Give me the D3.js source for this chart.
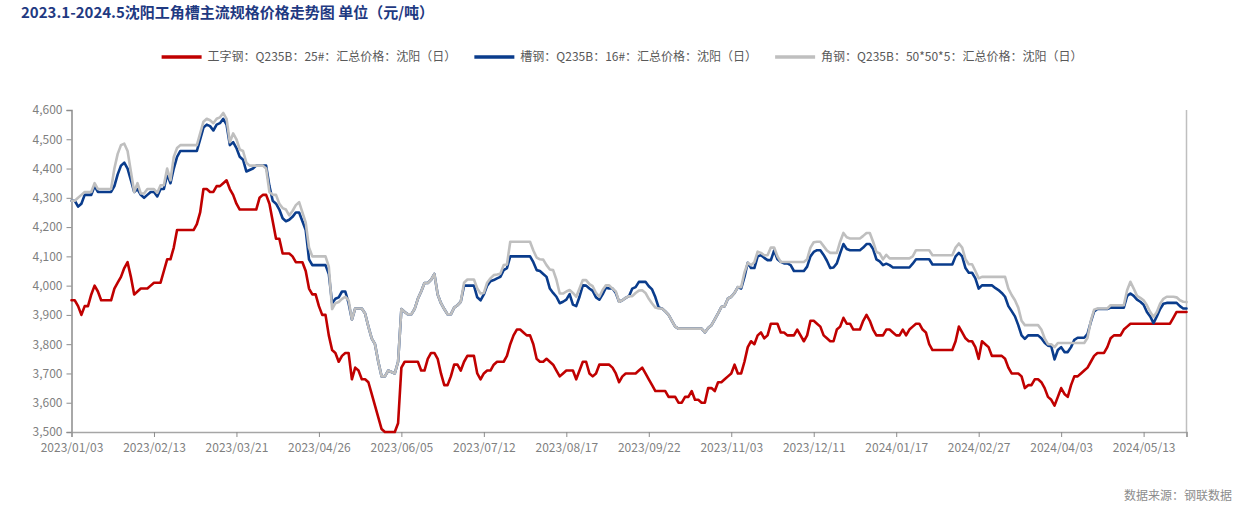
<!DOCTYPE html>
<html><head><meta charset="utf-8">
<script src="https://cdn.jsdelivr.net/npm/d3@7/dist/d3.min.js"></script>
<style>
html,body{margin:0;padding:0;background:#fff;}
svg text{font-family:"Noto Sans CJK SC","Noto Sans",sans-serif;}
</style></head>
<body><svg id="c" width="1249" height="515"></svg>
<script>
const title = "2023.1-2024.5沈阳工角槽主流规格价格走势图 单位（元/吨）";
const source = "数据来源：钢联数据";
const seriesNames = ["工字钢：Q235B：25#：汇总价格：沈阳（日）","槽钢：Q235B：16#：汇总价格：沈阳（日）","角钢：Q235B：50*50*5：汇总价格：沈阳（日）"];
const seriesColors = ["#C00000","#0A3C8C","#BFBFBF"];
const tickLabels = ["2023/01/03","2023/02/13","2023/03/21","2023/04/26","2023/06/05","2023/07/12","2023/08/17","2023/09/22","2023/11/03","2023/12/11","2024/01/17","2024/02/27","2024/04/03","2024/05/13"];
const tickStep = 25;
const yTicks = [3500,3600,3700,3800,3900,4000,4100,4200,4300,4400,4500,4600];

const iBeam = [
3950,3950,3930,3900,3930,3930,3970,4000,3980,3950,
3950,3950,3950,3990,4010,4030,4060,4080,4030,3970,
3980,3990,3990,3990,4000,4010,4010,4010,4050,4090,
4090,4130,4190,4190,4190,4190,4190,4190,4210,4250,
4330,4330,4320,4320,4340,4340,4350,4360,4330,4310,
4280,4260,4260,4260,4260,4260,4260,4300,4310,4310,
4280,4220,4160,4160,4110,4110,4110,4100,4080,4080,
4080,4050,3990,3970,3970,3930,3900,3900,3830,3780,
3770,3740,3760,3770,3770,3680,3720,3710,3680,3680,
3670,3630,3590,3550,3510,3500,3500,3500,3500,3530,
3720,3740,3740,3740,3740,3740,3710,3710,3750,3770,
3770,3750,3700,3660,3660,3690,3730,3730,3710,3740,
3760,3760,3760,3700,3680,3700,3710,3710,3730,3740,
3740,3740,3760,3800,3830,3850,3850,3840,3830,3830,
3800,3750,3740,3740,3750,3740,3730,3710,3690,3700,
3710,3710,3710,3680,3710,3740,3740,3700,3690,3700,
3730,3730,3730,3730,3720,3700,3670,3690,3700,3700,
3700,3700,3710,3720,3700,3680,3660,3640,3640,3640,
3640,3620,3620,3620,3600,3600,3620,3620,3640,3610,
3610,3600,3600,3650,3650,3640,3670,3670,3680,3690,
3700,3730,3700,3700,3740,3790,3810,3800,3830,3840,
3820,3830,3870,3870,3870,3840,3840,3830,3830,3830,
3850,3830,3810,3830,3880,3880,3870,3860,3830,3820,
3810,3810,3850,3860,3890,3870,3870,3850,3850,3850,
3880,3900,3880,3850,3830,3830,3830,3850,3850,3840,
3830,3830,3850,3830,3850,3860,3870,3870,3850,3840,
3800,3780,3780,3780,3780,3780,3780,3780,3810,3860,
3840,3820,3810,3810,3790,3750,3810,3800,3790,3760,
3760,3760,3760,3750,3720,3700,3700,3700,3690,3650,
3660,3660,3680,3680,3670,3650,3620,3610,3590,3620,
3650,3630,3620,3660,3690,3690,3700,3710,3720,3740,
3760,3770,3770,3770,3790,3820,3830,3830,3830,3850,
3860,3870,3870,3870,3870,3870,3870,3870,3870,3870,
3870,3870,3870,3870,3890,3910,3910,3910,3910];

const channel = [
4290,4290,4270,4280,4310,4310,4310,4340,4320,4320,
4320,4320,4320,4340,4380,4410,4420,4400,4360,4320,
4330,4310,4300,4310,4320,4320,4305,4330,4330,4380,
4350,4400,4440,4460,4460,4460,4460,4460,4460,4500,
4540,4550,4545,4530,4550,4555,4570,4550,4480,4490,
4470,4440,4430,4390,4395,4400,4410,4410,4410,4410,
4340,4290,4280,4260,4230,4220,4225,4235,4250,4250,
4220,4190,4090,4070,4070,4070,4070,4070,4040,3940,
3955,3960,3980,3980,3940,3884,3922,3922,3922,3905,
3860,3820,3800,3740,3690,3690,3710,3705,3700,3740,
3920,3910,3902,3902,3920,3955,3980,4009,4009,4020,
4040,3970,3940,3920,3902,3902,3925,3933,3945,4000,
4000,4000,4000,3960,3950,3970,4000,4015,4019,4025,
4030,4053,4060,4100,4100,4100,4100,4100,4100,4100,
4080,4053,4050,4040,4030,3990,3975,3962,3940,3945,
3952,3971,3935,3930,3962,4001,4000,3990,3982,3960,
3952,3970,3993,3990,3990,3975,3945,3950,3958,3964,
3990,3995,4013,4013,4013,3998,3987,3960,3925,3922,
3912,3900,3880,3860,3853,3853,3853,3853,3853,3853,
3853,3853,3840,3855,3865,3885,3905,3927,3930,3956,
3962,3975,3995,3990,4030,4078,4060,4060,4100,4104,
4095,4087,4087,4120,4090,4081,4076,4076,4070,4050,
4050,4050,4050,4065,4100,4115,4121,4121,4105,4085,
4060,4062,4076,4110,4142,4125,4121,4121,4121,4121,
4130,4142,4142,4125,4090,4083,4070,4075,4070,4062,
4062,4062,4062,4062,4062,4075,4090,4090,4090,4090,
4090,4072,4072,4072,4072,4072,4072,4072,4100,4112,
4100,4060,4044,4044,4025,3990,4001,4001,4001,4001,
3992,3985,3975,3962,3930,3913,3895,3865,3830,3818,
3830,3830,3830,3830,3820,3805,3795,3793,3748,3780,
3790,3773,3773,3790,3815,3822,3822,3822,3835,3876,
3912,3920,3920,3920,3920,3925,3925,3925,3925,3925,
3965,3973,3965,3952,3945,3935,3910,3895,3872,3895,
3920,3938,3941,3941,3941,3941,3930,3922,3922];

const angle = [
4290,4290,4300,4310,4320,4320,4320,4350,4330,4330,
4330,4330,4330,4400,4450,4480,4485,4460,4390,4320,
4350,4315,4315,4330,4330,4330,4317,4343,4343,4400,
4360,4440,4470,4480,4480,4480,4480,4480,4480,4520,
4560,4570,4565,4555,4570,4575,4590,4570,4490,4520,
4500,4465,4460,4420,4410,4410,4410,4410,4410,4400,
4320,4310,4310,4280,4265,4260,4240,4255,4275,4285,
4250,4215,4130,4100,4100,4100,4100,4100,4065,3920,
3940,3944,3955,3962,3950,3884,3922,3922,3922,3905,
3860,3820,3800,3740,3690,3690,3710,3705,3700,3740,
3920,3910,3902,3902,3920,3955,3980,4009,4009,4020,
4040,3970,3940,3920,3902,3902,3925,3933,3945,4010,
4021,4021,4021,3990,3973,3975,4010,4025,4036,4038,
4041,4070,4072,4150,4150,4150,4150,4150,4150,4150,
4120,4096,4090,4089,4070,4055,4053,4020,3973,3973,
3980,3985,3975,3962,3990,4019,4019,4005,3998,3975,
3962,3985,4001,4001,3990,3980,3945,3950,3958,3964,
3964,3975,3983,3984,3975,3955,3939,3925,3922,3922,
3912,3900,3880,3860,3853,3853,3853,3853,3853,3853,
3853,3853,3840,3855,3865,3885,3905,3927,3930,3956,
3962,3975,3995,3995,4045,4078,4070,4080,4116,4112,
4104,4104,4130,4130,4100,4081,4081,4081,4081,4081,
4081,4081,4081,4090,4130,4148,4150,4150,4135,4120,
4112,4112,4112,4150,4180,4165,4161,4161,4161,4161,
4170,4180,4180,4150,4115,4110,4090,4105,4093,4093,
4093,4093,4093,4093,4093,4100,4121,4121,4121,4121,
4121,4104,4104,4104,4104,4104,4104,4104,4130,4144,
4130,4090,4073,4073,4050,4025,4030,4030,4030,4030,
4030,4030,4030,4030,3990,3968,3950,3925,3880,3865,
3865,3865,3865,3865,3850,3820,3800,3800,3790,3804,
3804,3804,3804,3804,3804,3804,3804,3804,3822,3880,
3918,3922,3922,3922,3922,3933,3933,3933,3933,3933,
3984,4013,3990,3965,3958,3950,3933,3910,3893,3910,
3938,3955,3962,3962,3962,3960,3950,3945,3944];

const series = [iBeam, channel, angle];

const svg = d3.select("#c");
const m = {left:71.5, right:1186.5, top:110, bottom:432};
const n = iBeam.length;
const tickFont = '"Liberation Sans","Noto Sans",sans-serif';

const x = d3.scaleLinear().domain([0, n-1]).range([m.left, m.right]);
const y = d3.scaleLinear().domain([3500, 4600]).range([m.bottom, m.top]);

// title
svg.append("text").attr("x", 21).attr("y", 18)
  .attr("font-size", 15).attr("font-weight", "bold").attr("fill", "#1F3A82")
  .text(title);

// right border
svg.append("line").attr("x1", m.right).attr("x2", m.right)
  .attr("y1", m.top).attr("y2", m.bottom).attr("stroke", "#BFBFBF").attr("stroke-width", 1.5);

// y axis
const yAxis = d3.axisLeft(y).tickValues(yTicks).tickSize(5).tickPadding(4)
  .tickFormat(d3.format(","));
const gy = svg.append("g").attr("transform", `translate(${m.left},0)`).call(yAxis);
gy.select(".domain").attr("stroke", "#8c8c8c").attr("stroke-width", 1.5);
gy.selectAll(".tick line").attr("stroke", "#8c8c8c");
gy.selectAll(".tick text").attr("fill", "#7f7f7f").attr("font-size", 12)
  .attr("font-family", tickFont);

// x axis
const xTickVals = tickLabels.map((d, i) => i * tickStep);
const xAxis = d3.axisBottom(x).tickValues(xTickVals.concat([n-1])).tickSize(5).tickPadding(6)
  .tickFormat((d) => { const k = xTickVals.indexOf(d); return k >= 0 ? tickLabels[k] : ""; });
const gx = svg.append("g").attr("transform", `translate(0,${m.bottom})`).call(xAxis);
gx.select(".domain").attr("stroke", "#a6a6a6").attr("stroke-width", 1.5);
gx.selectAll(".tick line").attr("stroke", "#8c8c8c");
gx.selectAll(".tick text").attr("fill", "#7f7f7f").attr("font-size", 12)
  .attr("font-family", tickFont);

// lines
const line = d3.line().x((d, i) => x(i)).y(d => y(d));
series.forEach((s, k) => {
  svg.append("path").datum(s).attr("d", line)
    .attr("fill", "none").attr("stroke", seriesColors[k])
    .attr("stroke-width", 2.6).attr("stroke-linejoin", "round").attr("stroke-linecap", "round");
});

// legend
const lg = svg.append("g");
let cx = 0;
seriesNames.forEach((name, k) => {
  const g = lg.append("g");
  g.append("line").attr("x1", 0).attr("x2", 40).attr("y1", 0).attr("y2", 0)
    .attr("stroke", seriesColors[k]).attr("stroke-width", 3.5);
  const t = g.append("text").attr("x", 46).attr("y", 4).attr("font-size", 12)
    .attr("fill", "#595959").text(name);
  const w = 46 + t.node().getComputedTextLength();
  g.attr("transform", `translate(${cx},0)`);
  cx += w + 18;
});
const totalW = cx - 18;
lg.attr("transform", `translate(${622 - totalW/2},57)`);

// source
svg.append("text").attr("x", 1232).attr("y", 500).attr("text-anchor", "end")
  .attr("font-size", 12).attr("fill", "#8c8c8c").text(source);
</script>
</body></html>
